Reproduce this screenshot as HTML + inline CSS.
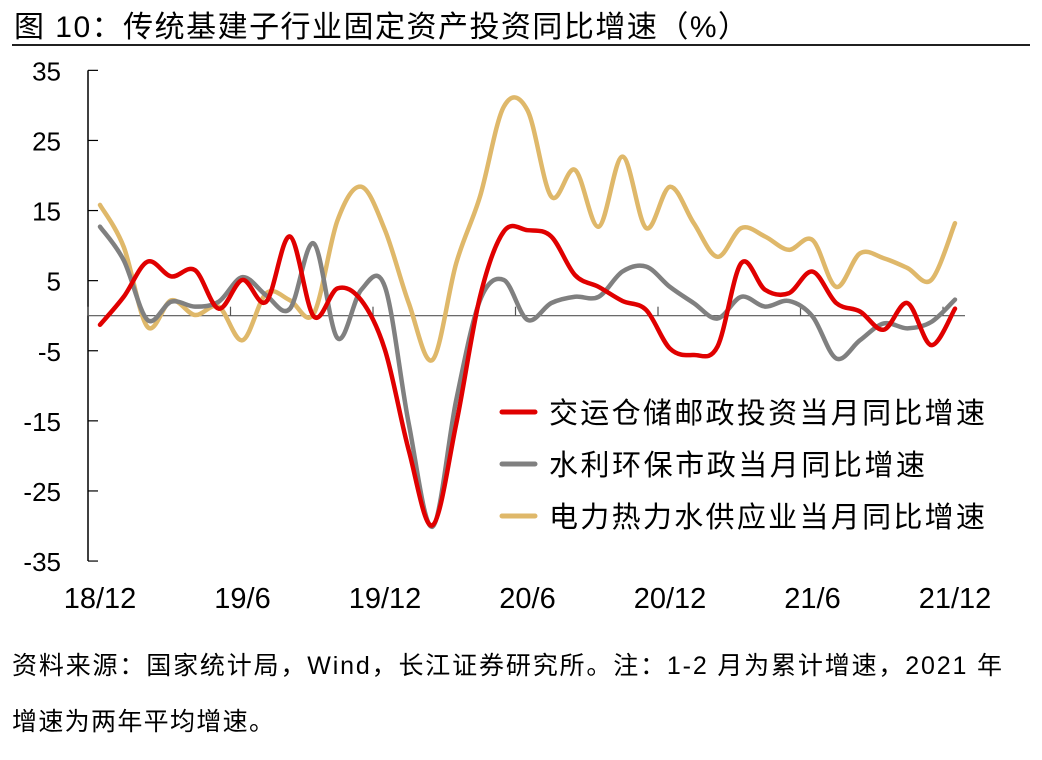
<!DOCTYPE html>
<html><head><meta charset="utf-8"><style>
body{margin:0;background:#fff;}
svg text{font-family:"Liberation Sans","Noto Sans CJK SC",sans-serif;}
</style></head><body>
<svg id="c" width="1042" height="755" xmlns="http://www.w3.org/2000/svg">
<text x="14" y="37" font-size="30" fill="#000" textLength="734" lengthAdjust="spacing">图 10：传统基建子行业固定资产投资同比增速（%）</text>
<line x1="12" y1="45" x2="1030" y2="45" stroke="#000" stroke-width="1.8"/>
<g id="axes"></g>
<g id="lines"></g>
<g id="legend"></g>
<text x="12" y="674" font-size="25" fill="#000" textLength="990" lengthAdjust="spacing">资料来源：国家统计局，Wind，长江证券研究所。注：1-2 月为累计增速，2021 年</text>
<text x="12" y="730" font-size="25" fill="#000" textLength="262" lengthAdjust="spacing">增速为两年平均增速。</text>
</svg>
<script>
const xLabels=["18/12","19/6","19/12","20/6","20/12","21/6","21/12"];
const yTicks=[35,25,15,5,-5,-15,-25,-35];
const seriesNames=["交运仓储邮政投资当月同比增速","水利环保市政当月同比增速","电力热力水供应业当月同比增速"];
const redVals=[-1.3,2.7,7.7,5.6,6.5,1,5.1,2,11.3,-0.1,3.9,2.2,-4.9,-19.2,-29.9,-15.4,2.7,12,12.2,11.3,5.8,4.1,2.1,0.8,-4.7,-5.6,-4.4,7.5,3.7,3.2,6.3,1.8,0.6,-2,1.8,-4.2,1];
const grayVals=[12.7,7.9,-0.6,2,1.3,2,5.5,2.9,1,10.3,-3.2,3.7,4.1,-15.4,-30.1,-12,2.2,5.1,-0.6,1.8,2.7,2.7,6.3,7,4.1,1.8,-0.4,2.7,1.3,2.1,-0.1,-6.1,-3.5,-1.1,-1.8,-0.9,2.3];
const goldVals=[15.8,9.8,-1.6,2.2,0.1,1.3,-3.5,3.2,2.2,0.3,13.6,18.4,12.2,1.8,-6.3,7.5,17,29.8,29.3,17,20.8,12.7,22.7,12.5,18.4,13.2,8.4,12.5,11.3,9.4,10.8,4.1,8.9,8.2,6.8,5.1,13.2];
const colors=["#e00000","#808080","#dfb86a"];
const NS="http://www.w3.org/2000/svg";
const X0=88,step=23.75;
function xs(i){return 100+step*i;}
function ys(v){return 315.7-v*7.01;}
function mk(t,a,p){const e=document.createElementNS(NS,t);for(const k in a)e.setAttribute(k,a[k]);p.appendChild(e);return e;}
const ax=document.getElementById('axes');
const yl=mk('line',{x1:X0,y1:ys(35),x2:X0,y2:ys(-35),stroke:'#000','stroke-width':1.5},ax);


yTicks.forEach(v=>{
 const t=mk('line',{x1:X0,y1:ys(v),x2:X0+10,y2:ys(v),stroke:'#000','stroke-width':1.2},ax);
 
 
 const l=mk('text',{x:61,y:ys(v)+10,'font-size':26,'text-anchor':'end'},ax);l.textContent=v;
 
 
});
const xl=mk('line',{x1:X0,y1:ys(0),x2:965,y2:ys(0),stroke:'#555','stroke-width':1.2},ax);


xLabels.forEach((s,k)=>{
 const i=k*6;
 const t=mk('line',{x1:X0+step*i,y1:ys(0),x2:X0+step*i,y2:ys(0)-9,stroke:'#555','stroke-width':1.2},ax);
 
 
 const l=mk('text',{x:xs(i),y:608,'font-size':29,'text-anchor':'middle'},ax);l.textContent=s;
 
 
});
function pathD(vals){
 const p=vals.map((v,i)=>[xs(i),ys(v)]);
 let d=`M${p[0][0]},${p[0][1]}`;
 for(let i=0;i<p.length-1;i++){
  const a=p[Math.max(0,i-1)],b=p[i],c=p[i+1],e=p[Math.min(p.length-1,i+2)];
  const c1=[b[0]+(c[0]-a[0])/6,b[1]+(c[1]-a[1])/6],c2=[c[0]-(e[0]-b[0])/6,c[1]-(e[1]-b[1])/6];
  d+=` C${c1[0]},${c1[1]} ${c2[0]},${c2[1]} ${c[0]},${c[1]}`;
 }
 return d;
}
const lg=document.getElementById('lines');
const all=[redVals,grayVals,goldVals];
const lnames=['line-transport','line-water-env','line-power'];
[2,1,0].forEach(k=>{
 const p=mk('path',{d:pathD(all[k]),fill:'none',stroke:colors[k],'stroke-width':4.5,'stroke-linejoin':'round','stroke-linecap':'round'},lg);
 
 
});
const leg=document.getElementById('legend');
const ly=[412,464,516];
const lw=[436,376,436];
seriesNames.forEach((n,k)=>{
 const l=mk('line',{x1:502,y1:ly[k],x2:535,y2:ly[k],stroke:colors[k],'stroke-width':5,'stroke-linecap':'round'},leg);
 
 
 const t=mk('text',{x:549,y:ly[k]+11,'font-size':29,textLength:lw[k],lengthAdjust:'spacing'},leg);t.textContent=n;
 
 
});
</script>
</body></html>
